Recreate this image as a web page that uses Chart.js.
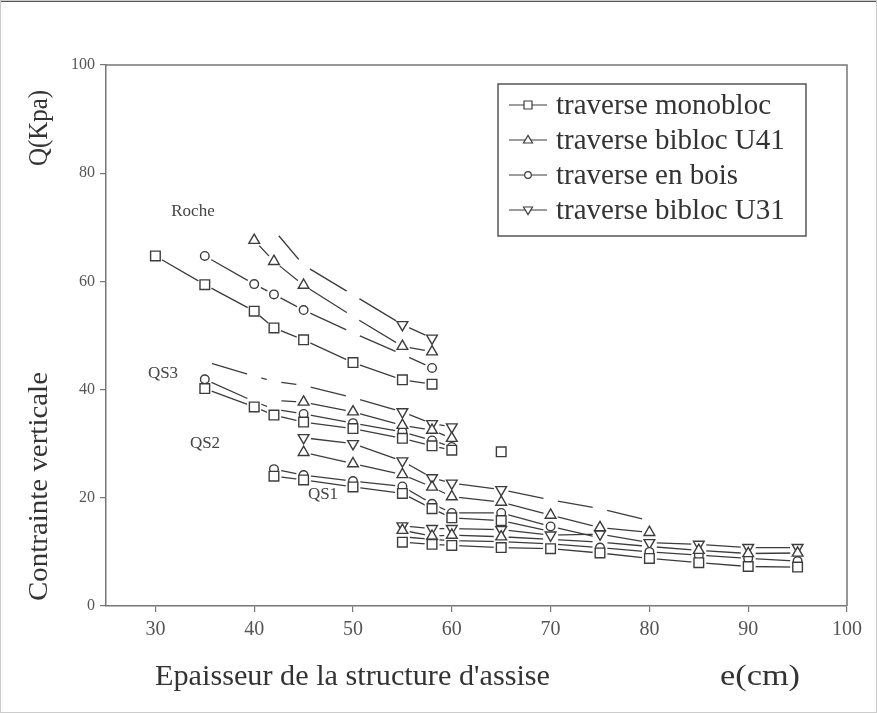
<!DOCTYPE html>
<html>
<head>
<meta charset="utf-8">
<script src="https://cdn.jsdelivr.net/npm/chart.js@4.4.1/dist/chart.umd.min.js"></script>
<style>
  body { margin: 0; background: #fff; }
  #wrap { width: 877px; height: 713px; }
</style>
</head>
<body>
<div id="wrap"><canvas id="chart" width="877" height="713"></canvas></div>
<script>
const seriesLabels = ["traverse monobloc", "traverse bibloc U41", "traverse en bois", "traverse bibloc U31"];
const xTicks = [30, 40, 50, 60, 70, 80, 90, 100];
const yTicks = [0, 20, 40, 60, 80, 100];

// Roche
const rocheMono = [[30, 64.7], [35, 59.4], [40, 54.5], [42, 51.4], [45, 49.2], [50, 45.0], [55, 41.8], [58, 41.0]];
const rocheU41 = [[40, 67.6], [42, 63.7], [45, 59.3], [50, 53.5], [55, 48.0], [58, 47.0]];
const rocheBois = [[35, 64.7], [40, 59.5], [42, 57.6], [45, 54.7], [50, 50.5], [55, 46.5], [58, 44.0]];
const rocheU31 = [[42, 69.5], [45, 63.0], [50, 57.5], [55, 52.0], [58, 49.5]];

// QS3
const qs3Mono = [[35, 40.2], [40, 36.8], [42, 35.3], [45, 34.0], [50, 32.8], [55, 31.0], [58, 29.6], [60, 28.8], [62, null], [65, 28.5]];
const qs3U41 = [[42, 38.0], [45, 37.7], [50, 35.9], [55, 33.4], [58, 32.5], [60, 31.0]];
const qs3Bois = [[35, 41.9], [40, 37.8], [42, 36.4], [45, 35.5], [50, 33.8], [55, 32.2], [58, 30.6], [60, 29.4]];
const qs3U31 = [[35, 45.2], [40, 42.5], [42, 41.5], [45, 40.8], [50, 38.5], [55, 35.9], [58, 33.7], [60, 33.1]];

// QS2
const qs2Mono = [[42, 24.0], [45, 23.3], [50, 22.0], [55, 20.8], [58, 18.0], [60, 16.3], [65, 15.8], [70, 13.8]];
const qs2U41 = [[45, 28.4], [50, 26.3], [55, 24.3], [58, 22.0], [60, 20.2], [65, 19.2], [70, 16.8], [75, 14.5], [80, 13.6]];
const qs2Bois = [[42, 25.3], [45, 24.2], [50, 23.1], [55, 22.1], [58, 18.9], [60, 17.2], [65, 17.2], [70, 14.7], [75, 12.6]];
const qs2U31 = [[45, 31.1], [50, 30.0], [55, 26.8], [58, 23.7], [60, 22.7], [65, 21.5], [70, 19.6], [75, 18.0], [80, 15.8]];

// QS1
const qs1Mono = [[55, 11.8], [58, 11.4], [60, 11.2], [65, 10.8], [70, 10.6], [75, 9.8], [80, 8.8], [85, 8.0], [90, 7.3], [95, 7.2]];
const qs1U41 = [[55, 14.0], [58, 12.9], [60, 13.1], [65, 12.8], [70, 12.3], [75, 11.8], [80, 11.0], [85, 10.3], [90, 9.7], [95, 9.8]];
const qs1Bois = [[55, 12.8], [58, 12.3], [60, 12.1], [65, 11.9], [70, 11.5], [75, 10.8], [80, 10.0], [85, 9.4], [90, 8.8], [95, 8.3]];
const qs1U31 = [[55, 14.8], [58, 14.3], [60, 14.3], [65, 14.1], [70, 13.1], [75, 13.3], [80, 11.7], [85, 11.4], [90, 10.8], [95, 10.8]];

// points whose marker is not visible on the figure (x values)
const hiddenMarkers = {
  rocheU41: [50], rocheBois: [50, 55], rocheU31: [42, 45, 50],
  qs3U41: [42], qs3Bois: [40, 42], qs3U31: [35, 40, 42, 45, 50],
  qs2Mono: [70], qs2Bois: [75], qs2U31: [70, 75, 80],
  qs1U41: [70, 75, 80], qs1Bois: [55, 58, 60, 65, 70]
};

const curves = [
  ["rocheMono", rocheMono, 0], ["rocheU41", rocheU41, 1], ["rocheBois", rocheBois, 2], ["rocheU31", rocheU31, 3],
  ["qs3Mono", qs3Mono, 0], ["qs3U41", qs3U41, 1], ["qs3Bois", qs3Bois, 2], ["qs3U31", qs3U31, 3],
  ["qs2Mono", qs2Mono, 0], ["qs2U41", qs2U41, 1], ["qs2Bois", qs2Bois, 2], ["qs2U31", qs2U31, 3],
  ["qs1Mono", qs1Mono, 0], ["qs1U41", qs1U41, 1], ["qs1Bois", qs1Bois, 2], ["qs1U31", qs1U31, 3]
];

const INK = "#3c3c3c";
const markerStyle = [
  { style: "rect", r: 6.8, rot: 0 },
  { style: "triangle", r: 6.2, rot: 0 },
  { style: "circle", r: 4.3, rot: 0 },
  { style: "triangle", r: 6.2, rot: 180 }
];

const datasets = [];
curves.forEach(([name, pts, s]) => {
  const data = pts.map(p => ({ x: p[0], y: p[1] }));
  datasets.push({
    role: "line", data: data, order: 2,
    borderColor: INK, borderWidth: 1.3, pointRadius: 0, spanGaps: false, tension: 0
  });
  const hide = hiddenMarkers[name] || [];
  const m = markerStyle[s];
  datasets.push({
    role: "marker", data: data, order: 1, showLine: false,
    pointStyle: m.style, rotation: m.rot,
    pointRadius: data.map(d => hide.includes(d.x) ? 0 : m.r),
    pointBorderWidth: 1.4, pointBorderColor: INK, pointBackgroundColor: "#fff"
  });
});

// white gap around every data point, drawn between lines and markers
const haloPlugin = {
  id: "halo",
  beforeDatasetsDraw(chart) { chart.$haloDone = false; },
  beforeDatasetDraw(chart, args) {
    if (chart.$haloDone || chart.data.datasets[args.index].role !== "marker") return;
    chart.$haloDone = true;
    const ctx = chart.ctx, a = chart.chartArea;
    ctx.save();
    ctx.beginPath();
    ctx.rect(a.left, a.top, a.right - a.left, a.bottom - a.top);
    ctx.clip();
    ctx.fillStyle = "#fff";
    chart.data.datasets.forEach((ds, i) => {
      if (ds.role !== "marker") return;
      chart.getDatasetMeta(i).data.forEach(el => {
        if (el.skip || isNaN(el.y)) return;
        ctx.beginPath();
        ctx.arc(el.x, el.y, 7.5, 0, Math.PI * 2);
        ctx.fill();
      });
    });
    ctx.restore();
  }
};

function fitText(ctx, text, x, y, font, width, rot) {
  ctx.save();
  ctx.font = font;
  const k = width / ctx.measureText(text).width;
  ctx.translate(x, y);
  if (rot) ctx.rotate(rot);
  ctx.scale(k, 1);
  ctx.textAlign = "left";
  ctx.textBaseline = "middle";
  ctx.fillText(text, 0, 0);
  ctx.restore();
}

function drawMarker(ctx, s, x, y) {
  ctx.beginPath();
  if (s === 0) {
    ctx.rect(x - 4, y - 4, 8, 8);
  } else if (s === 2) {
    ctx.arc(x, y, 3.3, 0, Math.PI * 2);
  } else {
    const d = s === 1 ? 1 : -1;
    ctx.moveTo(x, y - 4.6 * d);
    ctx.lineTo(x + 4.5, y + 3 * d);
    ctx.lineTo(x - 4.5, y + 3 * d);
    ctx.closePath();
  }
  ctx.fill();
  ctx.stroke();
}

const decorPlugin = {
  id: "decor",
  afterDraw(chart) {
    const ctx = chart.ctx, a = chart.chartArea;
    ctx.save();
    // frame of the plot (top and right)
    ctx.strokeStyle = "#777";
    ctx.lineWidth = 1.5;
    ctx.beginPath();
    ctx.moveTo(a.left, a.top);
    ctx.lineTo(a.right, a.top);
    ctx.lineTo(a.right, a.bottom);
    ctx.stroke();

    // figure border
    ctx.fillStyle = "#555";
    ctx.fillRect(0, 0, 877, 2);
    ctx.strokeStyle = "#ccc";
    ctx.lineWidth = 1;
    ctx.strokeRect(0.5, 0.5, 876, 712);

    // group labels
    ctx.fillStyle = "#444";
    ctx.font = "17px 'Liberation Serif'";
    ctx.textAlign = "center";
    ctx.textBaseline = "middle";
    ctx.fillText("Roche", 193, 212);
    ctx.fillText("QS3", 163, 374);
    ctx.fillText("QS2", 205, 444);
    ctx.fillText("QS1", 323, 495);

    // axis titles
    ctx.fillStyle = "#333";
    fitText(ctx, "Epaisseur de la structure d'assise", 155, 677, "29px 'Liberation Serif'", 395, 0);
    fitText(ctx, "e(cm)", 720, 677, "29px 'Liberation Serif'", 80, 0);
    fitText(ctx, "Q(Kpa)", 40, 166, "28px 'Liberation Serif'", 76, -Math.PI / 2);
    fitText(ctx, "Contrainte verticale", 40, 601, "28px 'Liberation Serif'", 229, -Math.PI / 2);

    // legend
    ctx.strokeStyle = "#555";
    ctx.lineWidth = 1.5;
    ctx.strokeRect(498, 84, 308, 152);
    const rows = [105, 140, 175, 210];
    seriesLabels.forEach((lab, i) => {
      const y = rows[i];
      ctx.strokeStyle = INK;
      ctx.lineWidth = 1.2;
      ctx.beginPath();
      ctx.moveTo(509, y);
      ctx.lineTo(547, y);
      ctx.stroke();
      ctx.fillStyle = "#fff";
      drawMarker(ctx, i, 528, y);
      ctx.fillStyle = "#333";
      ctx.font = "29px 'Liberation Serif'";
      ctx.textAlign = "left";
      ctx.textBaseline = "middle";
      ctx.fillText(lab, 556, y + 1);
    });
    ctx.restore();
  }
};

new Chart(document.getElementById("chart"), {
  type: "line",
  data: { datasets: datasets },
  options: {
    responsive: false,
    animation: false,
    layout: { padding: { left: 0, top: 65, right: 30, bottom: 0 } },
    plugins: { legend: { display: false }, tooltip: { enabled: false } },
    scales: {
      x: {
        type: "linear", min: 25, max: 100,
        afterBuildTicks: s => { s.ticks = xTicks.map(v => ({ value: v })); },
        afterFit: s => { s.height = 107; },
        grid: { drawOnChartArea: false, tickLength: 6, color: "#777", lineWidth: 1.2 },
        border: { color: "#777", width: 1.5 },
        ticks: { color: "#555", padding: 6, maxRotation: 0, font: { family: "'Liberation Serif'", size: 20 } }
      },
      y: {
        type: "linear", min: 0, max: 100,
        afterBuildTicks: s => { s.ticks = yTicks.map(v => ({ value: v })); },
        afterFit: s => { s.width = 106; },
        grid: { drawOnChartArea: false, tickLength: 6, color: "#777", lineWidth: 1.2 },
        border: { color: "#777", width: 1.5 },
        ticks: { color: "#555", padding: 5, font: { family: "'Liberation Serif'", size: 16 } }
      }
    }
  },
  plugins: [haloPlugin, decorPlugin]
});
</script>
</body>
</html>
